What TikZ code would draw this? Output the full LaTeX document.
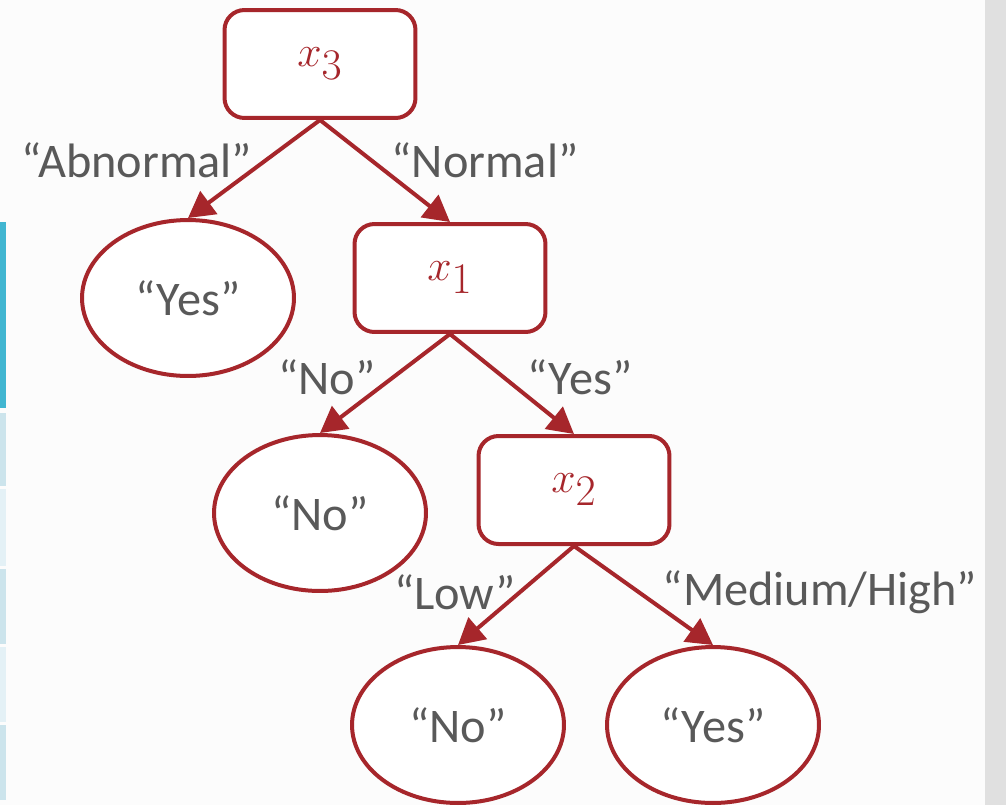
\documentclass[tikz,border=0pt]{standalone}
\usepackage{fontspec}
\setmainfont{Carlito}
\usetikzlibrary{arrows.meta,shapes.geometric}
\definecolor{treered}{HTML}{A6262B}
\definecolor{labelgray}{HTML}{595959}
\definecolor{tabteal}{HTML}{41B6D1}
\definecolor{tabblue}{HTML}{CCE4EC}
\definecolor{tablight}{HTML}{E4F1F6}
\definecolor{sidegray}{HTML}{E0E0E0}

\begin{document}
\begin{tikzpicture}[x=0.02cm,y=-0.02cm,>={Triangle[length=0.52cm,width=0.56cm]},
  line width=0.08cm,font=\fontsize{27.5}{33}\selectfont,
  testbox/.style={draw=treered,rounded corners=0.4cm,fill=white,
    minimum width=3.82cm,minimum height=2.16cm,text=treered,
    font=\fontsize{34}{40}\selectfont},
  leafnode/.style={draw=treered,ellipse,fill=white,
    minimum width=4.24cm,minimum height=3.12cm,text=labelgray},
  branch/.style={text=labelgray,inner sep=0pt},
  link/.style={->,draw=treered,line width=0.08cm}]
% page and side strips
\fill[white!99!black] (0,0) rectangle (1006,805);
\useasboundingbox (0,0) rectangle (1006,805);
\fill[sidegray] (985,0) rectangle (1006,805);
\fill[tabteal] (0,222) rectangle (6,408);
\fill[tabblue] (0,413) rectangle (6,486);
\fill[tablight] (0,489) rectangle (6,566);
\fill[tabblue] (0,569) rectangle (6,644);
\fill[tablight] (0,647) rectangle (6,722);
\fill[tabblue] (0,725) rectangle (6,800);

% tree
\node[testbox] (xthree) at (320,64) {$x_3$};
\node[leafnode] (yesa) at (188,298) {“Yes”};
\node[testbox] (xone) at (450,278) {$x_1$};
\node[leafnode] (noa) at (320,513) {“No”};
\node[testbox] (xtwo) at (574,490) {$x_2$};
\node[leafnode] (nob) at (458,725) {“No”};
\node[leafnode] (yesb) at (713,725) {“Yes”};

\draw[link] (xthree.south) -- (yesa.north);
\draw[link] (xthree.south) -- (xone.north);
\draw[link] (xone.south) -- (noa.north);
\draw[link] (xone.south) -- (xtwo.north);
\draw[link] (xtwo.south) -- (nob.north);
\draw[link] (xtwo.south) -- (yesb.north);

% branch labels
\node[branch] (abnormal) at (137,160) {“Abnormal”};
\node[branch] (normal) at (485,160) {“Normal”};
\node[branch] (nolab) at (327,377) {“No”};
\node[branch] (yeslab) at (580,377) {“Yes”};
\node[branch] (lowlab) at (455,592) {“Low”};
\node[branch] (medhigh) at (820,592) {“Medium/High”};
\end{tikzpicture}
\end{document}
